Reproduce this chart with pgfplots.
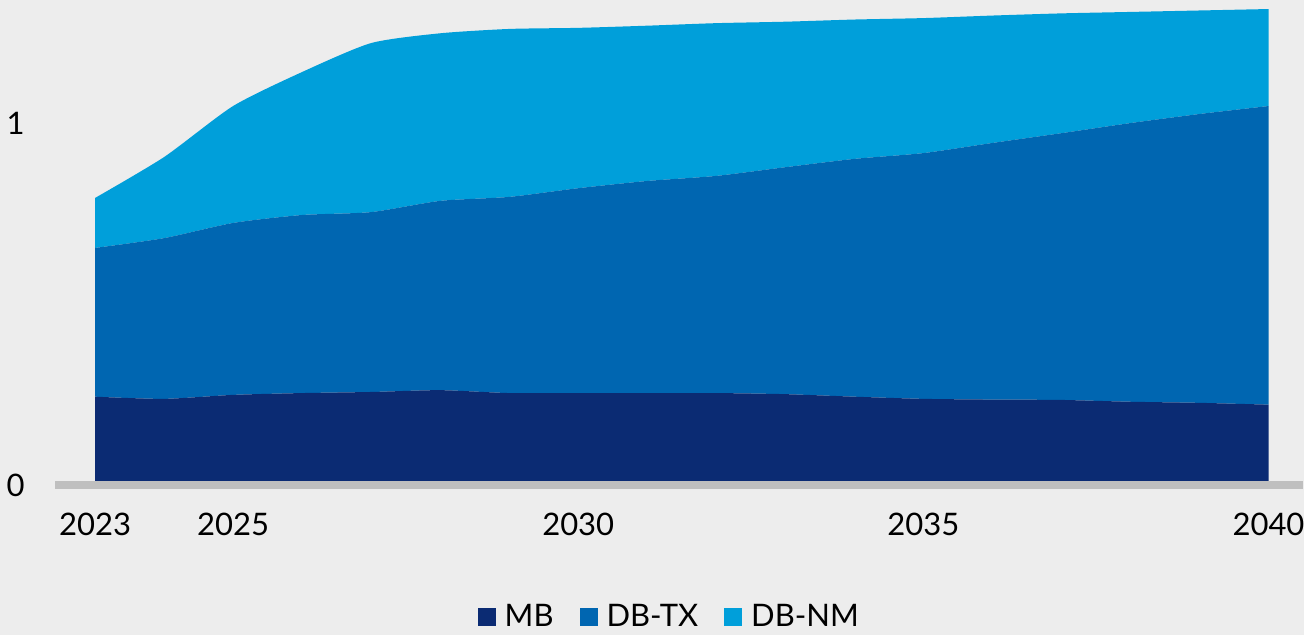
\documentclass[border=0pt]{standalone}
\usepackage{pgfplots}
\pgfplotsset{compat=1.18}
\usepackage{pgfplotstable}
\usepackage{fontspec}
\setmainfont{Lato}
\definecolor{bgc}{HTML}{EDEDED}
\definecolor{cMB}{HTML}{0B2B73}
\definecolor{cTX}{HTML}{0066B1}
\definecolor{cNM}{HTML}{009FDA}
\definecolor{axg}{HTML}{BFBFBF}
\pgfplotstableread{
year MB TX NM
2023 0.244 0.411 0.138
2024 0.238 0.444 0.224
2025 0.249 0.475 0.323
2026 0.254 0.492 0.395
2027 0.257 0.497 0.467
2028 0.262 0.523 0.463
2029 0.254 0.542 0.464
2030 0.254 0.566 0.443
2031 0.254 0.586 0.429
2032 0.254 0.600 0.422
2033 0.251 0.627 0.402
2034 0.244 0.657 0.385
2035 0.238 0.679 0.373
2036 0.236 0.709 0.352
2037 0.235 0.737 0.331
2038 0.230 0.770 0.307
2039 0.227 0.798 0.286
2040 0.222 0.825 0.268
}\data
\begin{document}
\begin{tikzpicture}
\fill[bgc] (0,0) rectangle (652pt,317.5pt);
\useasboundingbox (0,0) rectangle (652pt,317.5pt);
\begin{axis}[
  at={(27.5pt,75pt)}, anchor=south west,
  scale only axis, width=624pt, height=242.5pt,
  xmin=2022.42, xmax=2040.5, ymin=0, ymax=1.34,
  stack plots=y,
  axis line style={draw=none},
  major tick length=0pt,
  xtick={2023,2025,2030,2035,2040},
  ytick={0,1},
  xticklabel={\pgfmathprintnumber[1000 sep={}]{\tick}},
  /pgf/number format/assume math mode=true,
  xticklabel style={anchor=base, inner sep=0pt, yshift=-25.5pt, font=\fontsize{15.5}{18}\selectfont},
  yticklabel style={anchor=east, inner sep=0pt, xshift=-15pt, font=\fontsize{15.5}{18}\selectfont},
  clip=false,
  legend columns=3,
  legend style={at={(axis description cs:0.493,-0.272)}, anchor=center, draw=none, fill=none,
    font=\fontsize{15.5}{18}\selectfont,
    /tikz/every even column/.append style={column sep=11pt}},
  legend image code/.code={\fill[#1] (0pt,-4.5pt) rectangle (9pt,4.5pt); \path (11.5pt,0pt);},
]
\addplot[draw=none, fill=cMB, smooth, tension=0.4] table[x=year,y=MB] {\data} \closedcycle;
\addplot[draw=none, fill=cTX, smooth, tension=0.4] table[x=year,y=TX] {\data} \closedcycle;
\addplot[draw=none, fill=cNM, smooth, tension=0.4] table[x=year,y=NM] {\data} \closedcycle;
\legend{MB, DB-TX, DB-NM}
\end{axis}
\begin{axis}[
  at={(27.5pt,75pt)}, anchor=south west,
  scale only axis, width=624pt, height=242.5pt,
  xmin=2022.42, xmax=2040.5, ymin=0, ymax=1.34,
  hide axis, clip=false]
\draw[axg, line width=4pt] (axis cs:2022.42,0) -- (axis cs:2040.5,0);
\end{axis}
\end{tikzpicture}
\end{document}
